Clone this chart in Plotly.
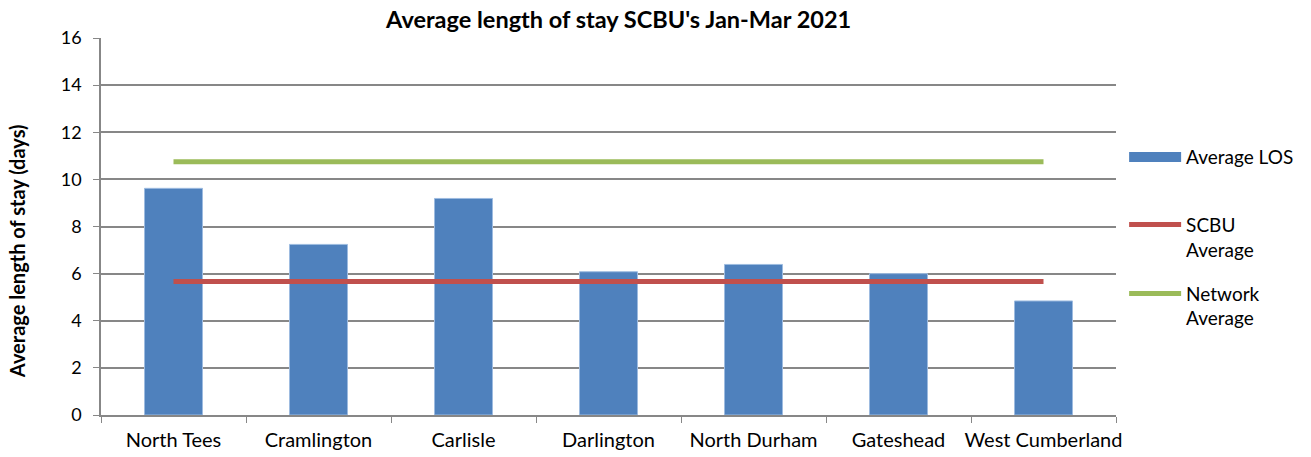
import plotly.graph_objects as go

units = ["North Tees", "Cramlington", "Carlisle", "Darlington",
         "North Durham", "Gateshead", "West Cumberland"]
avg_los = [9.62, 7.24, 9.19, 6.08, 6.39, 6.0, 4.84]
scbu_avg = [5.67] * len(units)
network_avg = [10.75] * len(units)

FONT = "Lato, 'Open Sans', sans-serif"
GRID = "#878787"
BLUE = "#4f81bd"

fig = go.Figure()

fig.add_trace(go.Bar(x=units, y=avg_los, name="Average LOS",
                     marker=dict(color=BLUE, line=dict(color="#9dbbe0", width=1)),
                     showlegend=False))
# legend entry drawn as a wide block like the original
fig.add_trace(go.Scatter(x=[None], y=[None], mode="lines", name="Average LOS",
                         line=dict(color=BLUE, width=11), legend="legend"))
fig.add_trace(go.Scatter(x=units, y=scbu_avg, mode="lines", name="SCBU<br>Average",
                         line=dict(color="#c0504d", width=5), legend="legend2"))
fig.add_trace(go.Scatter(x=units, y=network_avg, mode="lines", name="Network<br>Average",
                         line=dict(color="#9bbb59", width=5), legend="legend3"))

leg = dict(xanchor="left", yanchor="middle", bgcolor="rgba(0,0,0,0)",
           font=dict(family=FONT, size=19, color="#000"), valign="top",
           itemwidth=52)

fig.update_layout(
    width=1311, height=457,
    margin=dict(l=101, r=193, t=38, b=42),
    showlegend=True,
    paper_bgcolor="white", plot_bgcolor="white",
    font=dict(family=FONT, size=18, color="#000"),
    title=dict(text="<b>Average length of stay SCBU's Jan-Mar 2021</b>",
               xref="paper", x=0.51, xanchor="center",
               yref="container", y=0.956, yanchor="middle",
               font=dict(family=FONT, size=23.5, color="#000")),
    bargap=0.6,
    xaxis=dict(showline=True, linecolor=GRID, linewidth=1.5, ticks="outside",
               tickson="boundaries", ticklen=6, tickcolor=GRID, tickangle=0,
               tickfont=dict(size=20), ticklabelstandoff=6, automargin=False),
    yaxis=dict(range=[0, 16], dtick=2, showgrid=True, gridcolor=GRID, gridwidth=1.5,
               showline=True, linecolor=GRID, linewidth=1.5, ticks="outside",
               ticklen=6, tickcolor=GRID, zeroline=False, tickfont=dict(size=18),
               ticklabelstandoff=8, automargin=False),
    annotations=[dict(text="<b>Average length of stay (days)</b>", textangle=-90,
                      xref="paper", yref="paper", x=-0.0826, y=0.435,
                      xanchor="center", yanchor="middle", showarrow=False,
                      font=dict(family=FONT, size=20, color="#000"))],
    legend=dict(x=1.008, y=0.684, **leg),
    legend2=dict(x=1.008, y=0.472, **leg),
    legend3=dict(x=1.008, y=0.289, **leg),
)

# let the figure fill the window exactly
fig.write_html("out.html", config={"displayModeBar": False},
               post_script="document.body.style.margin='0';")
